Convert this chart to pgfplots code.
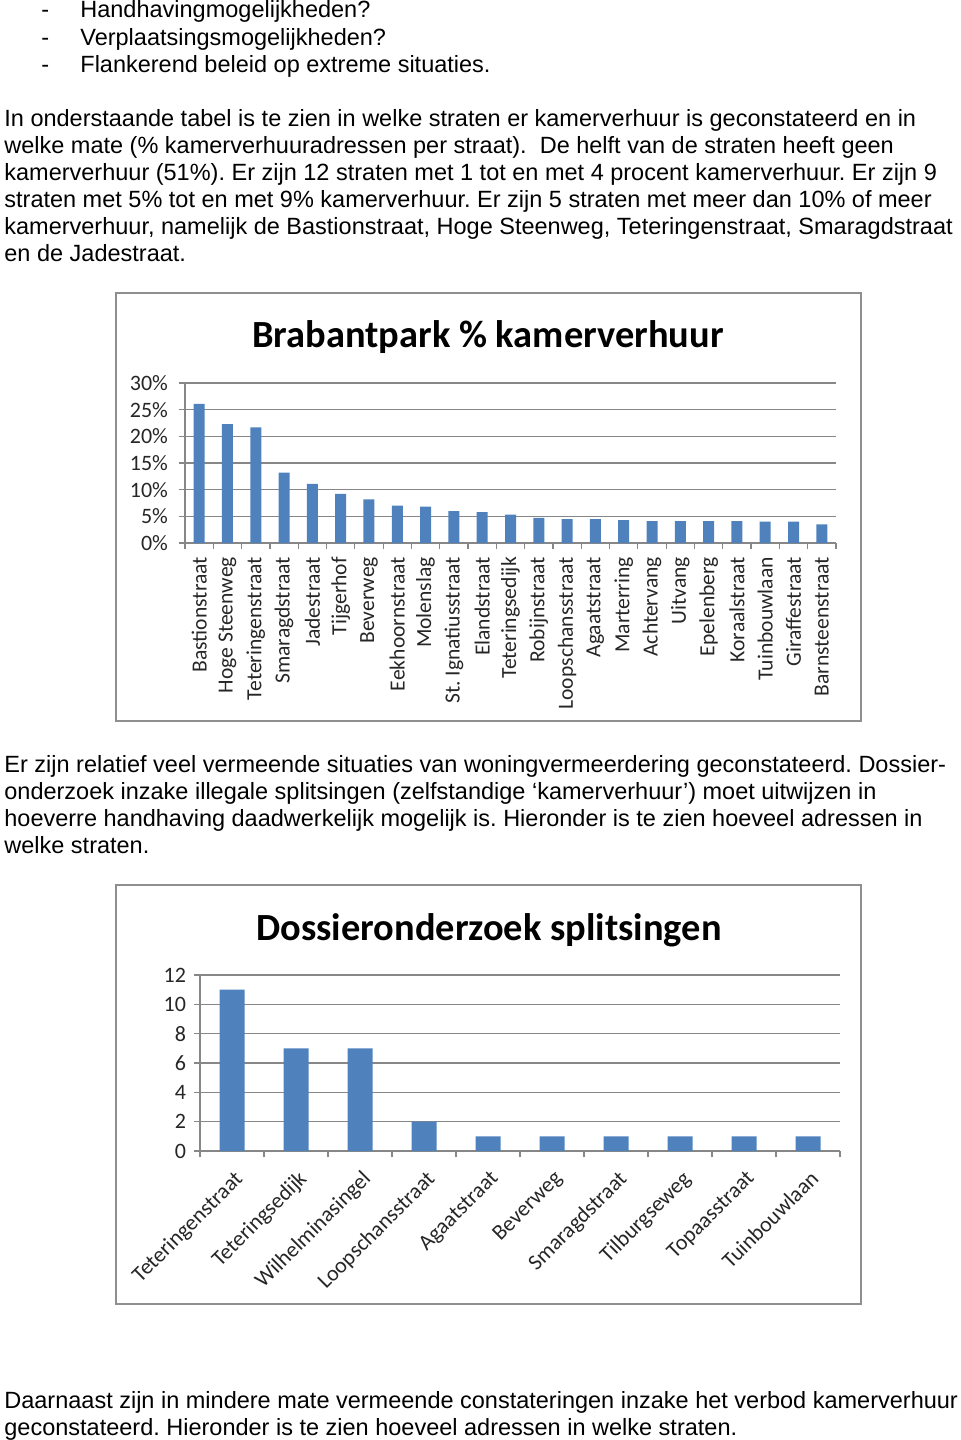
\documentclass[border=0pt]{standalone}
\usepackage{fontspec}
\setmainfont{Liberation Sans}
\newfontfamily\calibri{Carlito}
\usepackage{pgfplots}
\usepackage{pgfplotstable}
\pgfplotsset{compat=1.18}
\definecolor{barblue}{HTML}{4F81BD}
\definecolor{gridgray}{HTML}{878787}
\definecolor{framegray}{HTML}{8F8F8F}

\pgfplotstableread{
x y
0 26.1
1 22.3
2 21.7
3 13.2
4 11.1
5 9.2
6 8.2
7 7.0
8 6.8
9 6.0
10 5.8
11 5.3
12 4.7
13 4.5
14 4.5
15 4.3
16 4.1
17 4.1
18 4.1
19 4.1
20 4.0
21 4.0
22 3.5
}\dataA

\pgfplotstableread{
x y
0 11
1 7
2 7
3 2
4 1
5 1
6 1
7 1
8 1
9 1
}\dataB

\begin{document}
\frenchspacing
\begin{tikzpicture}
\path[use as bounding box] (0,0) rectangle (480pt,-720pt);
\tikzset{body/.style={anchor=base west, inner sep=0pt, font=\fontsize{11.75}{13.5}\selectfont}}
% bullets
\node[body] at (20.5pt,-9pt) {-};
\node[body] at (40pt,-9pt) {Handhavingmogelijkheden?};
\node[body] at (20.5pt,-22.5pt) {-};
\node[body] at (40pt,-22.5pt) {Verplaatsingsmogelijkheden?};
\node[body] at (20.5pt,-36pt) {-};
\node[body] at (40pt,-36pt) {Flankerend beleid op extreme situaties.};
% paragraph 1
\node[body] at (2pt,-63pt) {In onderstaande tabel is te zien in welke straten er kamerverhuur is geconstateerd en in};
\node[body] at (2pt,-76.5pt) {welke mate (\% kamerverhuuradressen per straat).\ \ De helft van de straten heeft geen};
\node[body] at (2pt,-90pt) {kamerverhuur (51\%). Er zijn 12 straten met 1 tot en met 4 procent kamerverhuur. Er zijn 9};
\node[body] at (2pt,-103.5pt) {straten met 5\% tot en met 9\% kamerverhuur. Er zijn 5 straten met meer dan 10\% of meer};
\node[body] at (2pt,-117pt) {kamerverhuur, namelijk de Bastionstraat, Hoge Steenweg, Teteringenstraat, Smaragdstraat};
\node[body] at (2pt,-130.5pt) {en de Jadestraat.};
% paragraph 2
\node[body] at (2pt,-386pt) {Er zijn relatief veel vermeende situaties van woningvermeerdering geconstateerd. Dossier-};
\node[body] at (2pt,-399.5pt) {onderzoek inzake illegale splitsingen (zelfstandige ‘kamerverhuur’) moet uitwijzen in};
\node[body] at (2pt,-413pt) {hoeverre handhaving daadwerkelijk mogelijk is. Hieronder is te zien hoeveel adressen in};
\node[body] at (2pt,-426.5pt) {welke straten.};
% paragraph 3
\node[body] at (2pt,-704pt) {Daarnaast zijn in mindere mate vermeende constateringen inzake het verbod kamerverhuur};
\node[body] at (2pt,-717.5pt) {geconstateerd. Hieronder is te zien hoeveel adressen in welke straten.};

% frames
\draw[framegray, line width=1pt] (58pt,-146.5pt) rectangle (430.5pt,-360.5pt);
\draw[framegray, line width=1pt] (58pt,-442.5pt) rectangle (430.5pt,-652pt);
% titles
\node[font=\calibri\bfseries\fontsize{19.2}{22}\selectfont] at (244pt,-168.5pt) {Brabantpark \% kamerverhuur};
\node[font=\calibri\bfseries\fontsize{19.2}{22}\selectfont] at (244.5pt,-465pt) {Dossieronderzoek splitsingen};

\begin{axis}[
  at={(92.5pt,-271.5pt)}, anchor=south west,
  scale only axis, width=325.5pt, height=80pt,
  xmin=-0.5, xmax=22.5, ymin=0, ymax=30,
  ybar, bar width=5.5pt,
  axis x line*=bottom, axis y line*=left,
  axis line style={gridgray, line width=0.6pt},
  ytick={0,5,...,30},
  yticklabel={\pgfmathprintnumber{\tick}\%},
  ymajorgrids, grid style={gridgray, line width=0.6pt},
  xtick={-0.5,0.5,...,22.5}, xticklabels={},
  tick align=outside, major tick length=3pt, tick style={gridgray, line width=0.6pt},
  extra x ticks={0,...,22},
  extra x tick labels={Bastionstraat,Hoge Steenweg,Teteringenstraat,Smaragdstraat,Jadestraat,Tijgerhof,Beverweg,Eekhoornstraat,Molenslag,St. Ignatiusstraat,Elandstraat,Teteringsedijk,Robijnstraat,Loopschansstraat,Agaatstraat,Marterring,Achtervang,Uitvang,Epelenberg,Koraalstraat,Tuinbouwlaan,Giraffestraat,Barnsteenstraat},
  extra x tick style={major tick length=0pt, grid=none, xticklabel style={rotate=90, anchor=east, xshift=-3.5pt, yshift=0pt, font=\calibri\fontsize{10.8}{12}\selectfont}},
  ticklabel style={font=\calibri\fontsize{11}{12}\selectfont, text=black!85},
  yticklabel style={xshift=-2pt},
  /pgf/number format/assume math mode=true,
]
\addplot[fill=barblue, draw=none] table {\dataA};
\end{axis}

\begin{axis}[
  at={(100pt,-575.5pt)}, anchor=south west,
  scale only axis, width=320pt, height=88pt,
  xmin=-0.5, xmax=9.5, ymin=0, ymax=12,
  ybar, bar width=12.5pt,
  axis x line*=bottom, axis y line*=left,
  axis line style={gridgray, line width=0.6pt},
  ytick={0,2,...,12},
  ymajorgrids, grid style={gridgray, line width=0.6pt},
  xtick={-0.5,0.5,...,9.5}, xticklabels={},
  tick align=outside, major tick length=3pt, tick style={gridgray, line width=0.6pt},
  extra x ticks={0,...,9},
  extra x tick labels={Teteringenstraat,Teteringsedijk,Wilhelminasingel,Loopschansstraat,Agaatstraat,Beverweg,Smaragdstraat,Tilburgseweg,Topaasstraat,Tuinbouwlaan},
  extra x tick style={major tick length=0pt, grid=none, xticklabel style={rotate=45, anchor=north east, xshift=-2.6pt, yshift=-3.3pt}},
  ticklabel style={font=\calibri\fontsize{11}{13}\selectfont, text=black!85},
  yticklabel style={xshift=-0.5pt},
  /pgf/number format/assume math mode=true,
]
\addplot[fill=barblue, draw=none] table {\dataB};
\end{axis}
\end{tikzpicture}
\end{document}
